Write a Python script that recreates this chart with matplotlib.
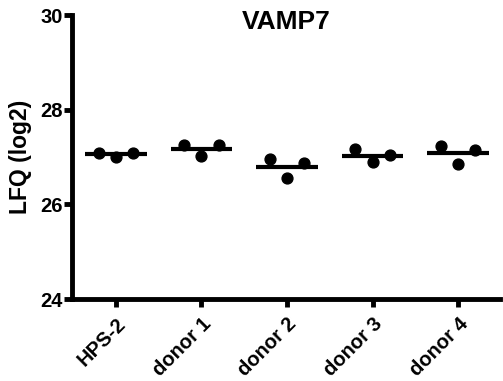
import matplotlib
matplotlib.use("Agg")
import matplotlib.pyplot as plt
import matplotlib.transforms as mtransforms
import numpy as np

plt.rcParams['font.family'] = ['Liberation Sans', 'DejaVu Sans']

categories = ["HPS-2", "donor 1", "donor 2", "donor 3", "donor 4"]
values = [
    [27.09, 27.00, 27.09],
    [27.25, 27.03, 27.25],
    [26.95, 26.55, 26.88],
    [27.16, 26.89, 27.04],
    [27.23, 26.86, 27.14],
]
title = "VAMP7"
ylabel = "LFQ (log2)"
yticks = [24, 26, 28, 30]

fig = plt.figure(figsize=(5.03, 3.81), dpi=100)
ax = fig.add_axes([0.143, 0.2152, 0.851, 0.7454])

offsets = [-0.2, 0.0, 0.2]
for i, vals in enumerate(values):
    xs = [i + o for o in offsets]
    ax.plot(xs, vals, 'o', color='black', markersize=7.8, zorder=3, linestyle='none')
    m = np.mean(vals)
    ax.plot([i - 0.36, i + 0.36], [m, m], color='black', linewidth=3.0, solid_capstyle='butt', zorder=2)

ax.set_xlim(-0.515, 4.49)
ax.set_ylim(24, 30)
ax.set_yticks(yticks)
ax.set_yticklabels([str(t) for t in yticks], fontsize=14.5, fontweight='bold')
ax.set_xticks(range(len(categories)))
ax.set_xticklabels(categories, fontsize=14.5, fontweight='bold', rotation=45,
                   ha='right', va='top', rotation_mode='anchor')
shift = mtransforms.ScaledTranslation(8 / 100, 0, fig.dpi_scale_trans)
for lab in ax.get_xticklabels():
    lab.set_transform(lab.get_transform() + shift)
ax.tick_params(axis='x', length=6, width=3.5, pad=5)
ax.tick_params(axis='y', length=6, width=3.5, pad=0.5)
for s in ['top', 'right']:
    ax.spines[s].set_visible(False)
for s in ['left', 'bottom']:
    ax.spines[s].set_linewidth(3.5)
ax.set_ylabel(ylabel, fontsize=16.5, fontweight='bold', labelpad=6)
ax.text(0.5, 0.977, title, transform=ax.transAxes, ha='center', va='center',
        fontsize=19, fontweight='bold')

fig.savefig("out.png", dpi=100)
